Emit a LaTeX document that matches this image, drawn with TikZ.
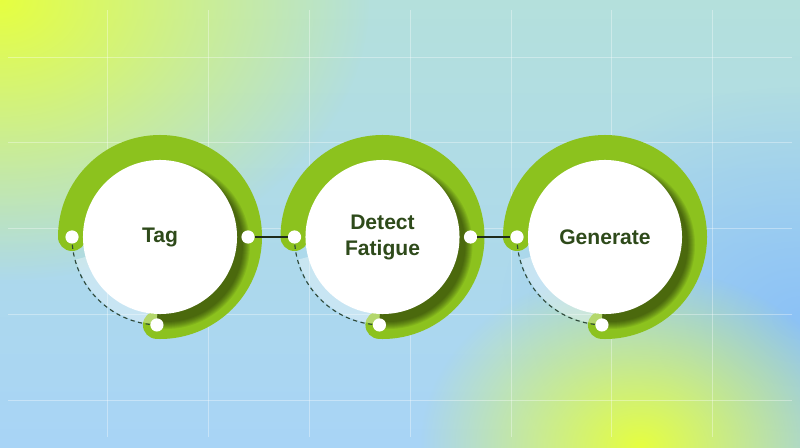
\documentclass[tikz,border=0pt]{standalone}
\usepackage{xcolor}
\usepackage{fontspec}
\setmainfont{Liberation Sans}
\usepackage{tikz}
\tikzset{>=latex}
\usetikzlibrary{fadings}

\definecolor{ringgreen}{HTML}{8CC21E}
\definecolor{textgreen}{HTML}{2E4A1A}
\definecolor{linkcol}{HTML}{1E2B1A}
\definecolor{dashcol}{HTML}{2F4A3A}
\definecolor{bgtop}{HTML}{B4E0DC}
\definecolor{bgbottom}{HTML}{A8D4F6}
\definecolor{bgblue}{HTML}{8CC2F6}
\definecolor{sunyellow}{HTML}{E6FF40}

\tikzfading[name=glow, inner color=transparent!0, outer color=transparent!100]

\tikzset{
  ring/.style={draw=ringgreen, line width=0.7cm, line cap=round},
  disc/.style={circle, fill=white, minimum size=3.85cm, inner sep=0pt,
    font=\fontsize{15}{18.5}\selectfont\bfseries, text=textgreen, align=center},
  dot/.style={circle, fill=white, minimum size=0.33cm, inner sep=0pt},
  link/.style={draw=linkcol, line width=1.4pt},
  trail/.style={draw=dashcol, line width=0.8pt, dash pattern=on 3pt off 2.5pt},
  gridline/.style={white, opacity=0.35, line width=0.7pt}
}

\begin{document}
\begin{tikzpicture}[x=0.025cm, y=0.025cm]
   \useasboundingbox (0,0) rectangle (800,447);

   % Background
   \begin{scope}
    \clip (0,0) rectangle (800,447);
    \shade[top color=bgtop, bottom color=bgbottom] (0,0) rectangle (800,447);
    \fill[bgblue, path fading=glow] (800,130) ellipse [x radius=300, y radius=230];
    \fill[sunyellow, path fading=glow] (0,447) ellipse [x radius=370, y radius=280];
    \fill[sunyellow, path fading=glow] (640,0) ellipse [x radius=220, y radius=180];
   \end{scope}

   % Grid
   \foreach \x in {107,208,309,410,511,611,712}{
        \draw[gridline] (\x,10) -- (\x,437);
   }
   \foreach \y in {47,133,219,305,390}{
        \draw[gridline] (8,\y) -- (792,\y);
   }

   % Steps
   \foreach \cx/\nm/\txt in {160/tag/Tag, 382.5/detect/{Detect\\Fatigue}, 605/gen/Generate}{
        \coordinate (\nm-w) at ([shift={(180:88)}]\cx,210);
        \coordinate (\nm-s) at ([shift={(268:88)}]\cx,210);
        \draw[ring] (\nm-w) arc[start angle=180, end angle=-92, radius=88];
        \begin{scope}
            \clip (\cx-3,90) rectangle (\cx+110,320);
            \foreach \i in {1,...,8}{
                \fill[black, opacity=0.07] (\cx+6,202) circle[radius=76+\i];
            }
        \end{scope}
        \fill[white, opacity=0.35] ([shift={(195:77)}]\cx,210) arc[start angle=195, end angle=268, radius=77]
            -- ([shift={(268:87)}]\cx,210) arc[start angle=268, end angle=195, radius=87] -- cycle;
        \draw[trail] (\nm-w) arc[start angle=180, end angle=268, radius=88];
        \node[disc] (\nm) at (\cx,210) {\txt};
        \node[dot] (\nm-in) at (\nm-w) {};
        \node[dot] (\nm-end) at (\nm-s) {};
   }
   \foreach \cx/\nm in {160/tag, 382.5/detect}{
        \node[dot] (\nm-out) at (\cx+88,210) {};
   }

   % Links
   \draw[link] (tag-out) -- (detect-in);
   \draw[link] (detect-out) -- (gen-in);
\end{tikzpicture}
\end{document}
